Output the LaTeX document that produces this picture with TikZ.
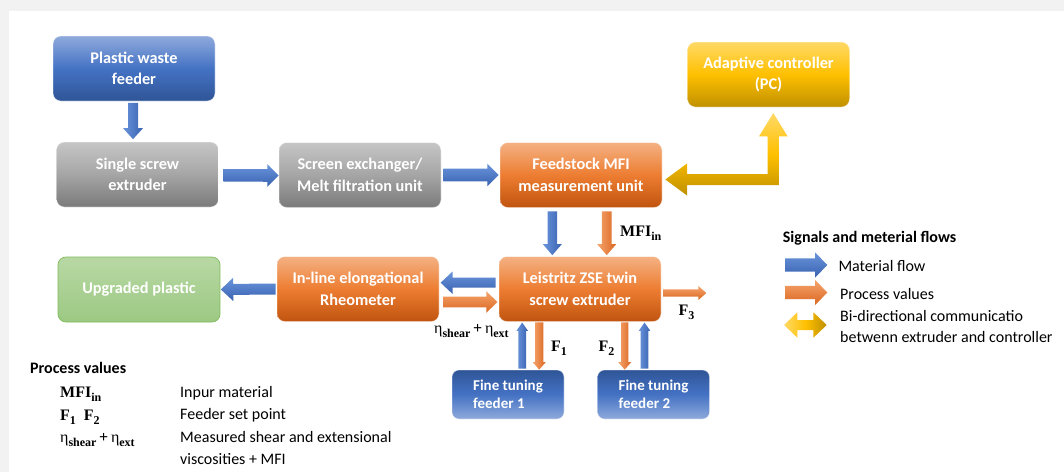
\documentclass[tikz,border=0pt]{standalone}
\usepackage{fontspec}
\setmainfont{Carlito}
\newfontfamily\lblfont{Liberation Serif}
\usetikzlibrary{calc}

\definecolor{bgGray}{HTML}{F2F2F2}
\definecolor{blueL}{HTML}{8FAADC}
\definecolor{blueM}{HTML}{4472C4}
\definecolor{blueD}{HTML}{2F5597}
\definecolor{grayL}{HTML}{C6C6C6}
\definecolor{grayM}{HTML}{A5A5A5}
\definecolor{grayD}{HTML}{7A7A7A}
\definecolor{orngL}{HTML}{F4B183}
\definecolor{orngM}{HTML}{ED7D31}
\definecolor{orngD}{HTML}{C0540F}
\definecolor{yellL}{HTML}{FFD966}
\definecolor{yellM}{HTML}{FFC000}
\definecolor{yellD}{HTML}{BF9000}
\definecolor{grnL}{HTML}{B8D8A4}
\definecolor{grnD}{HTML}{9CC983}
\definecolor{grnE}{HTML}{7FBA5C}
\definecolor{arrBlueL}{HTML}{6A95DC}
\definecolor{arrBlueD}{HTML}{3962B0}
\definecolor{arrOrngL}{HTML}{F6A56E}
\definecolor{arrOrngD}{HTML}{DA6620}

% subscript used in the process-value labels
\newcommand\sbs[1]{\raisebox{-4pt}{\fontsize{12}{12}\selectfont\bfseries #1}}

% block arrow: #1 style, #2 tail, #3 tip, #4 half shaft width, #5 half head width, #6 head length
\newcommand\flowarrow[6]{%
  \coordinate (fa-s) at (#2);
  \coordinate (fa-t) at (#3);
  \coordinate (fa-h) at ($(fa-t)!#6!(fa-s)$);
  \path[#1] ($(fa-s)!#4!90:(fa-t)$) -- ($(fa-h)!#4!90:(fa-t)$) -- ($(fa-h)!#5!90:(fa-t)$)
    -- (fa-t) -- ($(fa-h)!#5!-90:(fa-t)$) -- ($(fa-h)!#4!-90:(fa-t)$) -- ($(fa-s)!#4!-90:(fa-t)$) -- cycle;}

\tikzset{
  box/.style={rounded corners=8pt, minimum width=162pt, minimum height=65pt, inner sep=0pt,
    align=center, text=white, font=\fontsize{16.3}{21.5}\selectfont\bfseries,
    draw=white, draw opacity=0.45, line width=0.7pt},
  bluebox/.style={box, top color=blueL, bottom color=blueD, middle color=blueM},
  graybox/.style={box, top color=grayL, bottom color=grayD, middle color=grayM},
  orangebox/.style={box, top color=orngL, bottom color=orngD, middle color=orngM},
  yellowbox/.style={box, top color=yellL, bottom color=yellD, middle color=yellM},
  greenbox/.style={box, top color=grnL, bottom color=grnD, draw=grnE, draw opacity=1},
  feederbox/.style={box, rounded corners=7pt, minimum width=112pt, minimum height=49pt,
    align=left, font=\fontsize{15}{18.3}\selectfont\bfseries,
    top color=blueD, bottom color=blueL, middle color=blueM},
  blueH/.style={top color=arrBlueL, bottom color=arrBlueD},
  blueV/.style={left color=arrBlueL, right color=arrBlueD},
  orngH/.style={top color=arrOrngL, bottom color=arrOrngD},
  orngV/.style={left color=arrOrngL, right color=arrOrngD},
  lbl/.style={inner sep=0pt, anchor=base west, font=\lblfont\fontsize{16}{18}\selectfont},
  txt/.style={inner sep=0pt, anchor=base west, font=\fontsize{16}{19}\selectfont},
  ttl/.style={txt, font=\fontsize{16}{19}\selectfont\bfseries}
}

\begin{document}
\begin{tikzpicture}[x=1pt,y=-1pt]
\useasboundingbox (0,0) rectangle (1064,472);
\fill[bgGray] (0,0) rectangle (1064,472);
\fill[white] (9,11) rectangle (1064,472);

% process units
\node[bluebox]   (pwf)  at (134,68.5)   {Plastic waste\\feeder};
\node[graybox]   (sse)  at (137.5,174.5) {Single screw\\extruder};
\node[graybox]   (scr)  at (360,175)    {Screen exchanger/\\Melt filtration unit};
\node[orangebox] (fmu)  at (581,175)    {Feedstock MFI\\measurement unit};
\node[yellowbox] (apc)  at (768.5,74.5) {Adaptive controller\\(PC)};
\node[greenbox]  (upg)  at (139,289.5)  {Upgraded plastic};
\node[orangebox] (rheo) at (358,289)    {In-line elongational\\Rheometer};
\node[orangebox] (lzse) at (580,289)    {Leistritz ZSE twin\\screw extruder};
\node[feederbox] (ft1)  at (508,394.5)  {Fine tuning\\feeder 1};
\node[feederbox] (ft2)  at (653.5,394.5) {Fine tuning\\feeder 2};

% material flow
\flowarrow{blueV}{$(pwf.south)+(-1,1.5)$}{$(sse.north)+(-4.5,-2.5)$}{5pt}{10pt}{11pt}
\flowarrow{blueH}{$(sse.east)+(4.5,0.8)$}{$(scr.west)+(0,0.5)$}{6.3pt}{11.3pt}{11.3pt}
\flowarrow{blueH}{$(scr.east)+(2,0)$}{$(fmu.west)+(-1,0)$}{6.3pt}{11.3pt}{11.3pt}
\flowarrow{blueV}{$(fmu.south)+(-28.7,3.5)$}{$(lzse.north)+(-27.7,-1)$}{4.8pt}{9.5pt}{11pt}
\flowarrow{blueH}{$(lzse.west)+(-3,-6.3)$}{$(rheo.east)+(1.3,-6.3)$}{5pt}{11.3pt}{12pt}
\flowarrow{blueH}{$(rheo.west)+(-1,0)$}{$(upg.east)+(0.5,0)$}{5.5pt}{11.7pt}{12.4pt}
\flowarrow{blueV}{$(ft1.north)+(14.2,-1)$}{$(lzse.south)+(-57.8,0.7)$}{3.9pt}{5.8pt}{8.3pt}
\flowarrow{blueV}{$(ft2.north)+(-9,-1)$}{$(lzse.south)+(64.5,0.7)$}{3.8pt}{5.8pt}{8.3pt}

% process values
\flowarrow{orngV}{$(fmu.south)+(25.7,3.5)$}{$(lzse.north)+(26.7,-1)$}{4.8pt}{9.5pt}{11pt}
\flowarrow{orngH}{$(rheo.east)+(3.7,13)$}{$(lzse.west)+(-1.3,13)$}{5.3pt}{10.8pt}{11pt}
\flowarrow{orngV}{$(lzse.south)+(-40.8,0.5)$}{$(ft1.north)+(31.2,0)$}{4.2pt}{6.5pt}{7.5pt}
\flowarrow{orngV}{$(lzse.south)+(44.7,0.5)$}{$(ft2.north)+(-28.8,0)$}{3.7pt}{6.5pt}{7.5pt}
\coordinate (f3end) at ($(lzse.east)+(45,4)$);
\flowarrow{orngH}{$(lzse.east)+(1.7,4)$}{f3end}{3.7pt}{7pt}{8pt}

% bi-directional link between the MFI unit and the controller
\coordinate (yl) at ($(fmu.east)+(3,4.5)$);
\coordinate (yt) at ($(apc.south)+(4.8,5.7)$);
\coordinate (yvl) at ($(yt)+(-5.6,0)$);
\coordinate (yvr) at ($(yt)+(5.6,0)$);
\coordinate (yht) at ($(yl)+(0,-5.5)$);
\coordinate (yhb) at ($(yl)+(0,5.5)$);
\path[top color=yellL, bottom color=yellD, middle color=yellM]
  (yl) -- ($(yl)+(21.7,-16)$) -- ($(yl)+(21.7,-5.5)$)
  -- (yvl |- yht) -- ($(yt)+(-5.6,23.3)$) -- ($(yt)+(-14.3,23.3)$)
  -- (yt) -- ($(yt)+(14.3,23.3)$) -- ($(yt)+(5.6,23.3)$)
  -- (yvr |- yhb) -- ($(yl)+(21.7,5.5)$) -- ($(yl)+(21.7,16)$) -- cycle;

% signal labels
\node[lbl] (mfi) at (620,236) {\bfseries MFI\sbs{in}};
\node[lbl] (eta) at (434,333.5) {η\sbs{shear}\,\textbf{+}\,η\sbs{ext}};
\node[lbl] (f1) at (551,351.5) {\bfseries F\sbs{1}};
\node[lbl] (f2) at (598.3,351.7) {\bfseries F\sbs{2}};
\node[lbl] (f3) at (678.3,315) {\bfseries F\sbs{3}};

% legend
\node[ttl] (lgt) at (782.7,242) {Signals and meterial flows};
\coordinate (lb1) at (785,265);   \coordinate (lb2) at (827.3,265);
\coordinate (lo1) at (785,292.5); \coordinate (lo2) at (827.3,292.5);
\flowarrow{blueH}{lb1}{lb2}{6.7pt}{12.7pt}{12.3pt}
\flowarrow{orngH}{lo1}{lo2}{6.7pt}{12.7pt}{12.3pt}
\coordinate (ly1) at (784,325); \coordinate (ly2) at (826.7,325);
\path[left color=yellL, right color=yellD, middle color=yellM]
  (ly1) -- ($(ly1)+(13.3,-12.7)$) -- ($(ly1)+(13.3,-5)$) -- ($(ly2)+(-13.3,-5)$)
  -- ($(ly2)+(-13.3,-12.7)$) -- (ly2) -- ($(ly2)+(-13.3,12.7)$) -- ($(ly2)+(-13.3,5)$)
  -- ($(ly1)+(13.3,5)$) -- ($(ly1)+(13.3,12.7)$) -- cycle;
\node[txt] (lg1) at (838.3,271) {Material flow};
\node[txt] (lg2) at (840,299) {Process values};
\node[txt] (lg3) at (840,321) {Bi-directional communicatio};
\node[txt] (lg4) at (840,342) {betwenn extruder and controller};

% list of process values
\node[ttl] (pvt) at (30,373.5) {Process values};
\node[lbl] (pv1) at (60,397) {\bfseries MFI\sbs{in}};
\node[lbl] (pv2) at (60,420) {\bfseries F\sbs{1}\enspace F\sbs{2}};
\node[lbl] (pv3) at (60,442.5) {η\sbs{shear}\,\textbf{+}\,η\sbs{ext}};
\node[txt] (pd1) at (180,397) {Inpur material};
\node[txt] (pd2) at (180,419.5) {Feeder set point};
\node[txt] (pd3) at (180,442) {Measured shear and extensional};
\node[txt] (pd4) at (180,464) {viscosities + MFI};
\end{tikzpicture}
\end{document}
